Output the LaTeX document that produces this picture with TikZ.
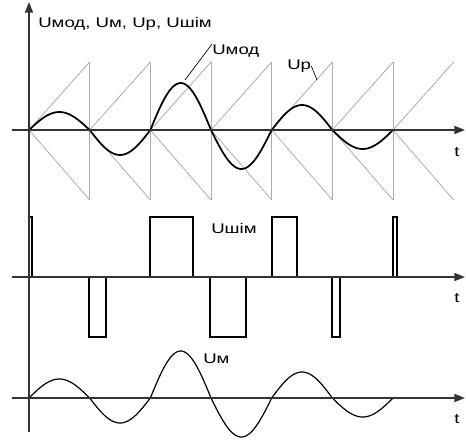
\documentclass[tikz,border=0pt]{standalone}
\usepackage{fontspec}
\setmainfont{Liberation Sans}[FakeStretch=1.33]
\usetikzlibrary{arrows.meta}

\tikzset{
  axisline/.style={line width=1.2pt,black!80},
  sawline/.style={line width=0.6pt,gray!65},
  lbl/.style={inner sep=0pt,anchor=base west},
}

\begin{document}
\begin{tikzpicture}[x=0.75pt,y=-0.75pt,>={Triangle[length=8pt,width=6pt]},font=\fontsize{10.5}{12}\selectfont]
  \useasboundingbox (0,0) rectangle (466,439);

  % Sawtooth carrier Up
  \foreach \k in {0,...,6} {
    \draw[sawline] ({29+60.67*\k},130) -- ({29+60.67*(\k+1)},62);
    \draw[sawline] ({29+60.67*\k},130) -- ({29+60.67*(\k+1)},200);
  }
  \foreach \k in {1,...,6}
    \draw[sawline] ({29+60.67*\k},62) -- ({29+60.67*\k},200);

  % Modulating signal Umod
  \foreach \amp [count=\n from 0] in {18,-25,47,-39,25,-19}
    \draw[line width=1.3pt] plot[domain=0:1,samples=30,smooth]
      ({29+60.67*(\n+\x)},{130-\amp*sin(180*\x)});

  % Labels with leaders
  \coordinate (umodpt) at (185,80);
  \coordinate (uppt) at (317,80);
  \node[lbl] (umodlbl) at (212,54) {Uмод};
  \node[lbl] (uplbl) at (287,69.5) {Uр};
  \draw[line width=0.5pt] (umodlbl.north west) -- (umodpt);
  \draw[line width=0.5pt] (uplbl.east) -- (uppt);

  % PWM pulses Ushim
  \foreach \xa/\xb/\lev in {29/32/217,89/106/337,150/193/217,210/246/337,272/297/217,332/340/337,393/397/217}
    \draw[line width=0.9pt] (\xa,277) -- (\xa,\lev) -- (\xb,\lev) -- (\xb,277);
  \node[lbl] (ushimlbl) at (211,233.5) {Uшім};

  % Restored signal Um
  \foreach \amp [count=\n from 0] in {19,-25,47,-39,26,-19}
    \draw[line width=0.9pt] plot[domain=0:1,samples=30,smooth]
      ({29+60.67*(\n+\x)},{398-\amp*sin(180*\x)});
  \node[lbl] (umlbl) at (203,363) {Uм};

  % Axes
  \draw[axisline,->] (29,432) -- (29,2);
  \draw[axisline,->] (12,130) -- (465,130);
  \draw[axisline,->] (12,277) -- (465,277);
  \draw[axisline,->] (12,398) -- (465,398);
  \node[lbl] (ylbl) at (38,27.5) {Uмод, Uм, Uр, Uшім};
  \node[anchor=base,inner sep=0pt] (t1) at (457,156) {t};
  \node[anchor=base,inner sep=0pt] (t2) at (457,302) {t};
  \node[anchor=base,inner sep=0pt] (t3) at (457,423.5) {t};
\end{tikzpicture}
\end{document}
